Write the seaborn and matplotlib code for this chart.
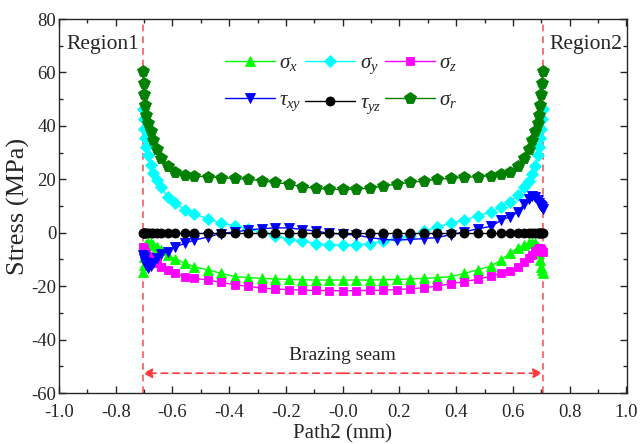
import numpy as np
import pandas as pd
import matplotlib
matplotlib.use("Agg")
import matplotlib.pyplot as plt
import seaborn as sns

# Positions along Path2 (mm): refined mesh near the two interfaces
path_x = [-0.705, -0.702, -0.699, -0.696, -0.693, -0.688, -0.677, -0.667, -0.655, -0.640,
          -0.617, -0.590, -0.557, -0.524, -0.476, -0.429, -0.381, -0.333, -0.286, -0.238,
          -0.190, -0.143, -0.095, -0.048, 0.000,
          0.048, 0.095, 0.143, 0.190, 0.238, 0.286, 0.333, 0.381, 0.429, 0.476,
          0.524, 0.557, 0.590, 0.617, 0.640, 0.655, 0.667, 0.677, 0.688, 0.693,
          0.696, 0.699, 0.702, 0.705]

# Stress components (MPa)
sigma_x = [-14.8, -12.0, -9.0, -6.0, -4.2, -3.8, -4.0, -4.5, -5.3, -6.5,
           -8.3, -9.8, -11.4, -12.7, -13.9, -15.2, -16.4, -16.8, -17.1, -17.3,
           -17.5, -17.6, -17.7, -17.7, -17.7,
           -17.7, -17.7, -17.6, -17.5, -17.3, -17.1, -16.8, -16.5, -15.2, -13.9,
           -12.4, -10.3, -7.6, -5.6, -4.6, -3.9, -3.8, -4.0, -5.3, -7.7,
           -10.2, -12.7, -14.0, -15.2]
sigma_y = [46.4, 42.6, 38.9, 35.6, 32.1, 29.0, 25.5, 22.2, 19.7, 17.2,
           13.5, 11.0, 8.6, 7.0, 5.2, 3.6, 2.6, 1.4, 0.1, -1.4,
           -2.3, -3.2, -4.1, -4.5, -4.7,
           -4.5, -4.1, -3.2, -2.0, -1.1, 0.5, 2.1, 3.6, 4.8, 6.2,
           7.8, 9.5, 11.5, 14.0, 17.0, 19.5, 22.0, 25.0, 29.0, 32.1,
           35.6, 38.9, 42.6, 46.4]
sigma_z = [-5.3, -6.0, -6.6, -7.2, -7.9, -8.6, -9.6, -10.5, -11.4, -12.7,
           -13.9, -15.2, -16.4, -17.0, -17.7, -18.6, -19.4, -20.1, -20.7, -21.1,
           -21.3, -21.5, -21.6, -21.7, -21.7,
           -21.7, -21.6, -21.5, -21.3, -21.0, -20.6, -20.0, -19.1, -18.3, -17.4,
           -16.2, -15.2, -14.2, -12.7, -10.8, -9.4, -8.4, -6.8, -6.0, -5.8,
           -5.8, -6.2, -6.7, -7.1]
tau_xy = [-8.4, -9.2, -10.0, -11.0, -12.1, -13.3, -12.5, -11.5, -9.6, -8.0,
          -7.1, -5.3, -4.0, -2.8, -1.6, -0.3, 0.3, 1.0, 1.5, 1.8,
          1.8, 1.2, 0.6, -0.2, -0.5,
          -0.9, -1.8, -2.5, -2.8, -2.5, -2.2, -1.8, -0.7, 0.3, 1.5,
          2.4, 4.6, 6.0, 7.7, 10.9, 12.7, 13.9, 13.3, 12.1, 11.2,
          10.5, 10.0, 9.5, 9.0]
tau_yz = [0.0] * 49
sigma_r = [60.6, 56.0, 51.9, 47.8, 43.9, 41.0, 37.9, 34.8, 31.5, 28.1,
           24.9, 22.8, 21.6, 21.2, 20.9, 20.6, 20.3, 20.0, 19.5, 18.8,
           18.2, 17.2, 16.6, 16.3, 16.2,
           16.4, 16.6, 17.5, 18.2, 18.8, 19.4, 20.0, 20.4, 20.7, 21.0,
           21.4, 21.8, 22.8, 24.9, 28.1, 31.5, 34.8, 37.9, 41.0, 43.9,
           47.8, 51.9, 56.0, 60.6]

seam_edges = [-0.705, 0.705]

series = [
    (r"$\sigma_x$", sigma_x, "#00ff00", "^", 7.5),
    (r"$\sigma_y$", sigma_y, "#00ffff", "D", 6.0),
    (r"$\sigma_z$", sigma_z, "#ff00ff", "s", 6.0),
    (r"$\tau_{xy}$", tau_xy, "#0000ff", "v", 7.5),
    (r"$\tau_{yz}$", tau_yz, "#000000", "o", 6.5),
    (r"$\sigma_r$", sigma_r, "#008000", "p", 8.5),
]

sns.set_style("ticks")
plt.rcParams["font.family"] = ["Liberation Serif", "DejaVu Serif"]
plt.rcParams["mathtext.fontset"] = "custom"
plt.rcParams["mathtext.rm"] = "Liberation Serif"
plt.rcParams["mathtext.it"] = "Liberation Serif:italic"
plt.rcParams["axes.unicode_minus"] = False

fig = plt.figure(figsize=(6.41, 4.44), dpi=100)
ax = fig.add_axes([59 / 641, 1 - 393 / 444, 567.5 / 641, 374 / 444])

handles = []
for label, vals, color, marker, ms in series:
    df = pd.DataFrame({"x": path_x, "y": vals})
    sns.lineplot(data=df, x="x", y="y", ax=ax, color=color, marker=marker,
                 markersize=ms, markeredgewidth=0.6, markeredgecolor=color,
                 linewidth=1.0, label=label, sort=False, legend=False)
    handles.append(ax.lines[-1])

# Seam boundaries
for xe in seam_edges:
    ax.axvline(xe, color="#ff3b3b", linestyle=(0, (4, 3)), linewidth=1.2, alpha=0.85, zorder=0)

# Brazing seam width indicator
ax.annotate("", xy=(seam_edges[0], -52.6), xytext=(0.0, -52.6),
            arrowprops=dict(arrowstyle="-|>", color="#ff3b3b", lw=1.2, linestyle=(0, (4, 3)),
                            mutation_scale=14, shrinkA=0, shrinkB=0))
ax.annotate("", xy=(seam_edges[1], -52.6), xytext=(0.0, -52.6),
            arrowprops=dict(arrowstyle="-|>", color="#ff3b3b", lw=1.2, linestyle=(0, (4, 3)),
                            mutation_scale=14, shrinkA=0, shrinkB=0))
ax.text(0.0, -45.8, "Brazing seam", ha="center", va="center", fontsize=14)

ax.text(-0.975, 70.6, "Region1", ha="left", va="center", fontsize=15.5)
ax.text(0.985, 70.6, "Region2", ha="right", va="center", fontsize=15.5)

ax.set_xlim(-1.0, 1.0)
ax.set_ylim(-60, 80)
ax.set_xticks(np.arange(-1.0, 1.01, 0.2))
ax.set_xticklabels([f"{v:.1f}" for v in np.arange(-1.0, 1.01, 0.2)])
ax.set_yticks(np.arange(-60, 81, 20))
ax.set_xticks(np.arange(-1.0, 1.01, 0.1), minor=True)
ax.set_yticks(np.arange(-60, 81, 10), minor=True)
ax.tick_params(which="both", direction="in", top=True, right=True, labelsize=13.5, width=1.0)
ax.tick_params(which="major", length=5)
ax.tick_params(which="minor", length=3)
ax.tick_params(axis="y", pad=2)
ax.tick_params(axis="x", pad=8)
for s in ax.spines.values():
    s.set_linewidth(1.0)
    s.set_visible(True)

ax.set_xlabel("Path2 (mm)", fontsize=15, labelpad=2)
ax.set_ylabel("Stress (MPa)", fontsize=19, labelpad=1)

order = [0, 3, 1, 4, 2, 5]
leg = ax.legend([handles[i] for i in order], [series[i][0] for i in order],
                ncol=3, loc="upper center", bbox_to_anchor=(0.497, 0.958), frameon=False,
                fontsize=15, handlelength=2.4, handletextpad=0.2, columnspacing=0.2,
                labelspacing=0.85)

fig.savefig("out.png", dpi=100)
